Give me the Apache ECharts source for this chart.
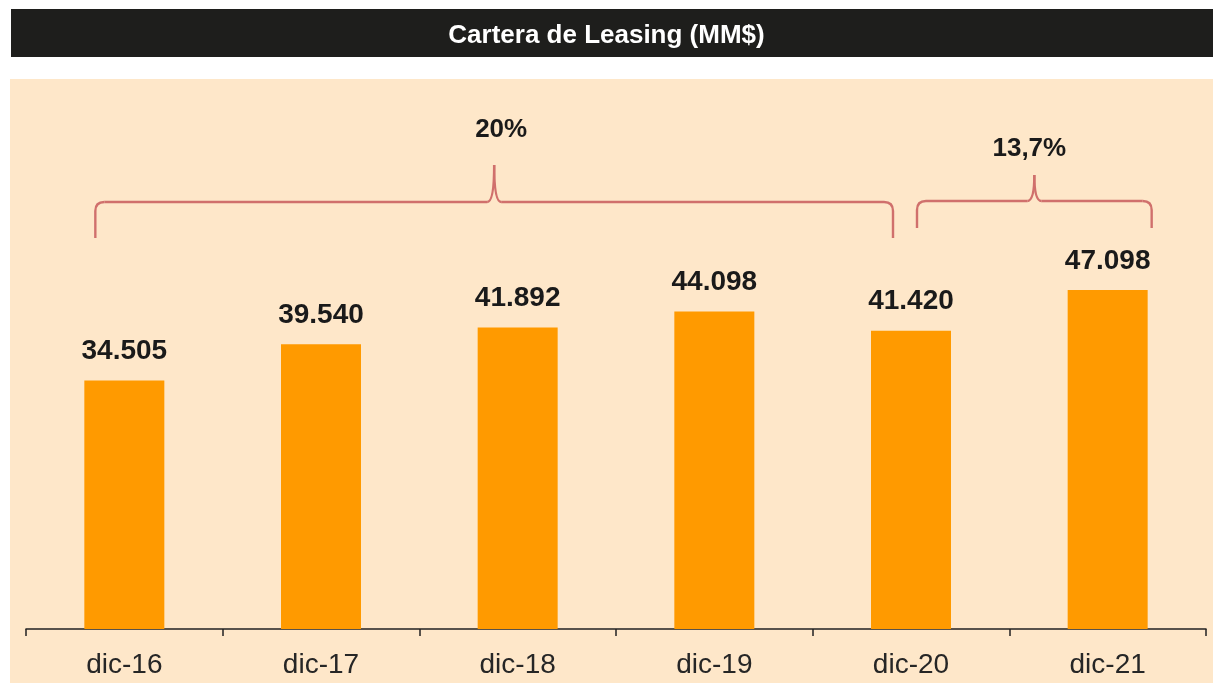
<!DOCTYPE html>
<html>
<head>
<meta charset="utf-8">
<script src="https://cdn.jsdelivr.net/npm/echarts@6/dist/echarts.min.js"></script>
<style>
  html, body { margin: 0; padding: 0; background: #ffffff; }
  #chart { width: 1213px; height: 683px; }
</style>
</head>
<body>
<div id="chart"></div>
<script>
// datos
const categorias = ["dic-16", "dic-17", "dic-18", "dic-19", "dic-20", "dic-21"];
const cartera = [34505, 39540, 41892, 44098, 41420, 47098];
const crecimientos = ["20%", "13,7%"];

const chart = echarts.init(document.getElementById("chart"));
const FONT = "Liberation Sans, Arial, sans-serif";

// formato con punto de miles
function miles(v) {
  return String(v).replace(/\B(?=(\d{3})+(?!\d))/g, ".");
}

chart.setOption({
  animation: false,
  title: {
    text: "Cartera de Leasing (MM$)",
    left: "center",
    top: 18,
    textStyle: { color: "#ffffff", fontSize: 26, fontWeight: "bold", fontFamily: FONT }
  },
  grid: { left: 26, right: 7, top: 197, bottom: 54 },
  xAxis: {
    type: "category",
    data: categorias,
    axisLine: { lineStyle: { color: "#222222", width: 1.5 } },
    axisTick: { show: true, length: 7, lineStyle: { color: "#222222", width: 1.5 } },
    axisLabel: { color: "#262626", fontSize: 28, fontFamily: FONT, margin: 22 }
  },
  yAxis: {
    type: "value",
    min: 0,
    max: 60000,
    show: false,
    splitLine: { show: false }
  },
  series: [
    {
      type: "bar",
      data: cartera,
      barWidth: 80,
      itemStyle: { color: "#FF9A00" },
      label: {
        show: true,
        position: "top",
        distance: 15,
        color: "#1a1a1a",
        fontSize: 28,
        fontWeight: "bold",
        fontFamily: FONT,
        formatter: p => miles(p.value)
      }
    }
  ]
});

// llave (anotacion) con lineas y curvas
const colorLlave = "#D0706C";
function llave(x1, x2, xm, yBase, yH, yTop) {
  const r = 9;
  const st = { stroke: colorLlave, lineWidth: 2.4, fill: null };
  const ln = (a, b, c, d) => ({ type: "line", z: 5, shape: { x1: a, y1: b, x2: c, y2: d }, style: st });
  const cv = (a, b, cx, cy, c, d) => ({ type: "bezierCurve", z: 5, shape: { x1: a, y1: b, cpx1: cx, cpy1: cy, x2: c, y2: d }, style: st });
  return [
    ln(x1, yBase, x1, yH + r),
    cv(x1, yH + r, x1, yH, x1 + r, yH),
    ln(x1 + r, yH, xm - 7, yH),
    cv(xm - 7, yH, xm, yH, xm, yTop),
    cv(xm, yTop, xm, yH, xm + 7, yH),
    ln(xm + 7, yH, x2 - r, yH),
    cv(x2 - r, yH, x2, yH, x2, yH + r),
    ln(x2, yH + r, x2, yBase)
  ];
}

const px = c => chart.convertToPixel({ xAxisIndex: 0 }, c);
const x16 = px("dic-16"), x20 = px("dic-20"), x21 = px("dic-21");

const b1 = { x1: x16 - 29, x2: x20 - 18 };
b1.xm = (b1.x1 + b1.x2) / 2;
const b2 = { x1: x20 + 6, x2: x21 + 44 };
b2.xm = (b2.x1 + b2.x2) / 2;

chart.setOption({
  graphic: [
    { type: "rect", z: -10, shape: { x: 11, y: 9, width: 1202, height: 48 }, style: { fill: "#1E1E1C" } },
    { type: "rect", z: -10, shape: { x: 10, y: 79, width: 1203, height: 604 }, style: { fill: "#FEE7C9" } },
    ...llave(b1.x1, b1.x2, b1.xm, 238, 202, 165),
    ...llave(b2.x1, b2.x2, b2.xm, 228, 201, 175),
    {
      type: "text", z: 5, x: b1.xm + 7, y: 130,
      style: { text: crecimientos[0], fill: "#1a1a1a", font: "bold 26px " + FONT, align: "center", verticalAlign: "middle" }
    },
    {
      type: "text", z: 5, x: b2.xm - 5, y: 149,
      style: { text: crecimientos[1], fill: "#1a1a1a", font: "bold 26px " + FONT, align: "center", verticalAlign: "middle" }
    }
  ]
});
</script>
</body>
</html>
